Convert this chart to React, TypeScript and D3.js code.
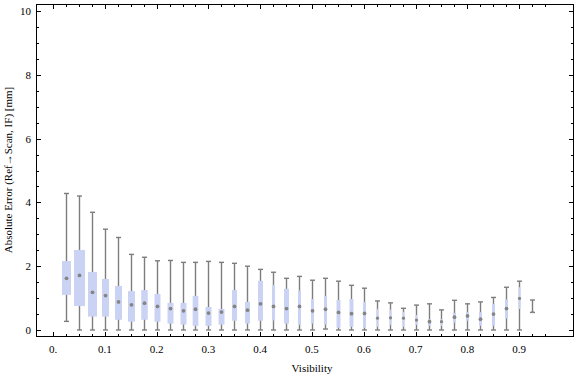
import React from "react";
import * as d3 from "d3";

const visibility = [0.025,0.05,0.075,0.1,0.125,0.15,0.175,0.2,0.225,0.25,0.275,0.3,0.325,0.35,0.375,0.4,0.425,0.45,0.475,0.5,0.525,0.55,0.575,0.6,0.625,0.65,0.675,0.7,0.725,0.75,0.775,0.8,0.825,0.85,0.875,0.9,0.925];
const whiskerLow = [0.27,0,0,0,0,0,0,0,0,0,0,0,0,0,0,0,0,0,0,0,0.03,0,0,0,0,0,0,0,0,0,0,0,0,0,0,0,0.55];
const q1 = [1.10,0.75,0.42,0.42,0.32,0.26,0.32,0.26,0.20,0.17,0.13,0.13,0.17,0.29,0.20,0.29,0.30,0.20,0.16,0.20,0.17,0.07,0.10,0.07,0.10,0.16,0.10,0.16,0.13,0.13,0.23,0.29,0.13,0.13,0.36,0.66,0.55];
const center = [1.62,1.71,1.18,1.08,0.88,0.79,0.84,0.74,0.67,0.60,0.65,0.53,0.56,0.74,0.62,0.82,0.74,0.67,0.74,0.60,0.65,0.55,0.51,0.52,0.37,0.38,0.37,0.31,0.26,0.26,0.40,0.44,0.34,0.50,0.67,0.99,0.58];
const q3 = [2.16,2.51,1.82,1.60,1.38,1.22,1.25,1.13,0.85,0.85,1.07,0.72,0.66,1.25,0.88,1.54,1.41,1.29,1.24,0.97,1.07,0.94,0.97,0.88,0.66,0.64,0.57,0.47,0.34,0.34,0.54,0.56,0.56,0.82,0.96,1.34,0.60];
const whiskerHigh = [4.28,4.20,3.69,3.16,2.90,2.37,2.28,2.17,2.18,2.12,2.12,2.15,2.12,2.09,2.00,1.90,1.81,1.62,1.68,1.56,1.62,1.53,1.40,1.31,0.91,0.85,0.68,0.78,0.82,0.63,0.93,0.82,0.88,1.02,1.34,1.53,0.94];
const boxWidths = [0.0174,0.0212,0.0174,0.0135,0.0135,0.0135,0.0125,0.0116,0.0116,0.0116,0.011,0.0116,0.0116,0.0097,0.0097,0.0097,0.0058,0.0097,0.0058,0.0058,0.0058,0.0077,0.0077,0.0058,0.0039,0.0039,0.0039,0.0039,0.0058,0.0039,0.0058,0.0058,0.0058,0.0058,0.0058,0.0039,0.0019];

const xTickLabels = ["0.","0.1","0.2","0.3","0.4","0.5","0.6","0.7","0.8","0.9"];
const xTickValues = [0,0.1,0.2,0.3,0.4,0.5,0.6,0.7,0.8,0.9];
const yTickValues = [0,2,4,6,8,10];

const W = 576, H = 377;
const FONT = "'Liberation Serif', 'DejaVu Serif', serif";

export default function App() {
  const x = d3.scaleLinear().domain([-0.031, 1.004]).range([37, 573]);
  const y = d3.scaleLinear().domain([-0.22, 10.22]).range([337, 4]);
  const left = 36.5, right = 573.5, top = 4.5, bottom = 336.5;

  const xMinor = d3.range(0, 0.9501, 0.025);
  const yMinor = d3.range(0, 10.001, 0.5);
  const isMajorX = (v: number) => Math.abs(v * 10 - Math.round(v * 10)) < 1e-6;
  const isMajorY = (v: number) => Math.abs(v / 2 - Math.round(v / 2)) < 1e-6;

  const gray = "#7d7d7d";
  const boxFill = "#cbd3f5";
  const capW = 5;

  return (
    <svg width={W} height={H} style={{ position: "absolute", left: 0, top: 0, background: "#fff" }}>
      {/* boxes */}
      {visibility.map((v, i) => {
        const cx = Math.round(x(v)) + 0.5;
        const bw = x(boxWidths[i]) - x(0);
        return (
          <g key={i}>
            <line x1={cx} x2={cx} y1={y(whiskerLow[i])} y2={y(whiskerHigh[i])} stroke={gray} strokeWidth={1.4} />
            <line x1={cx - capW / 2} x2={cx + capW / 2} y1={y(whiskerHigh[i])} y2={y(whiskerHigh[i])} stroke={gray} strokeWidth={1.4} />
            <line x1={cx - capW / 2} x2={cx + capW / 2} y1={y(whiskerLow[i])} y2={y(whiskerLow[i])} stroke={gray} strokeWidth={1.4} />
            <rect x={cx - bw / 2} width={bw} y={y(q3[i])} height={y(q1[i]) - y(q3[i])} fill={boxFill} />
            <circle cx={cx} cy={y(center[i])} r={Math.min(1.9, bw / 2 + 0.6)} fill="#858585" />
          </g>
        );
      })}
      {/* frame */}
      <rect x={left} y={top} width={right - left} height={bottom - top} fill="none" stroke="#000" strokeWidth={1} />
      {/* x ticks */}
      {xMinor.map((v, i) => {
        const px = Math.round(x(v)) + 0.5;
        const len = isMajorX(v) ? 4.5 : 2.5;
        return (
          <g key={"xt" + i}>
            <line x1={px} x2={px} y1={bottom} y2={bottom - len} stroke="#000" strokeWidth={1} />
            <line x1={px} x2={px} y1={top} y2={top + len} stroke="#000" strokeWidth={1} />
          </g>
        );
      })}
      {/* y ticks */}
      {yMinor.map((v, i) => {
        const py = Math.round(y(v)) + 0.5;
        const len = isMajorY(v) ? 4.5 : 2.5;
        return (
          <g key={"yt" + i}>
            <line x1={left} x2={left + len} y1={py} y2={py} stroke="#000" strokeWidth={1} />
            <line x1={right} x2={right - len} y1={py} y2={py} stroke="#000" strokeWidth={1} />
          </g>
        );
      })}
      {/* labels */}
      {xTickValues.map((v, i) => (
        <text key={"xl" + i} x={x(v)} y={353} textAnchor="middle" fontFamily={FONT} fontSize={11} fill="#000">
          {xTickLabels[i]}
        </text>
      ))}
      {yTickValues.map((v, i) => (
        <text key={"yl" + i} x={31} y={y(v) + 4} textAnchor="end" fontFamily={FONT} fontSize={11} fill="#000">
          {String(v)}
        </text>
      ))}
      <text x={312} y={372} textAnchor="middle" fontFamily={FONT} fontSize={11} fill="#000">Visibility</text>
      <text transform={`translate(12,170) rotate(-90)`} textAnchor="middle" fontFamily={FONT} fontSize={11} fill="#000">
        Absolute Error (Ref→Scan, IF) [mm]
      </text>
    </svg>
  );
}
